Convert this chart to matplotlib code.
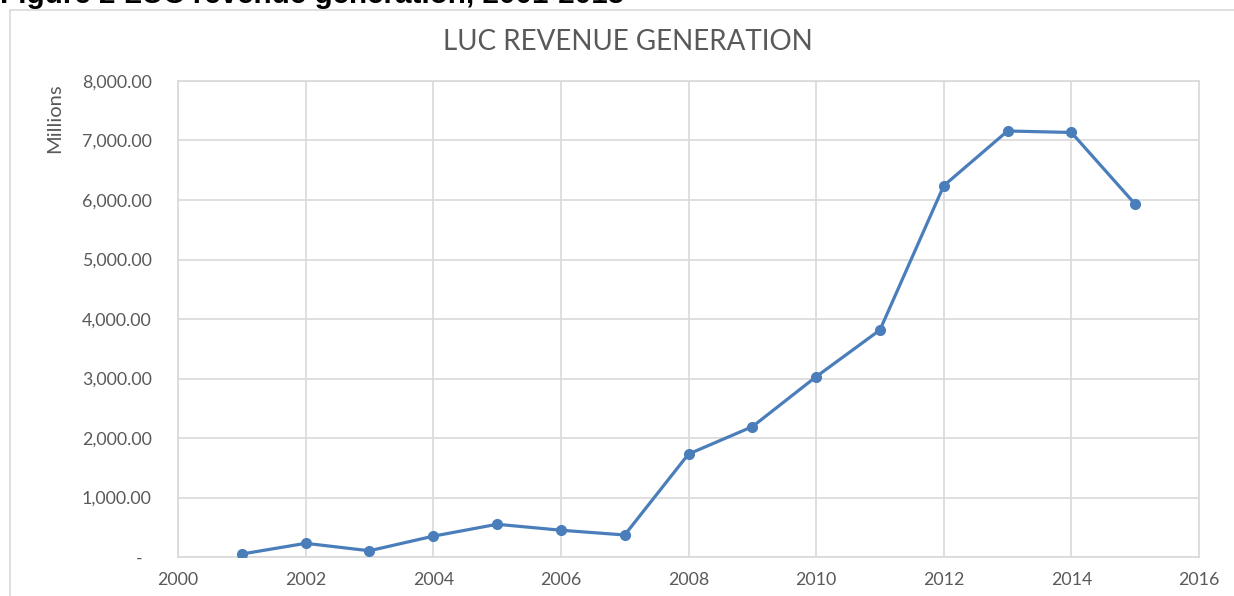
import matplotlib
matplotlib.use("Agg")
import matplotlib.pyplot as plt
from matplotlib.patches import Rectangle

years = [2001, 2002, 2003, 2004, 2005, 2006, 2007, 2008, 2009, 2010, 2011, 2012, 2013, 2014, 2015]
revenue = [50, 230, 105, 350, 550, 450, 370, 1730, 2190, 3030, 3815, 6240, 7160, 7135, 5930]
y_ticks = [0, 1000, 2000, 3000, 4000, 5000, 6000, 7000, 8000]
y_tick_labels = ["-  ", "1,000.00", "2,000.00", "3,000.00", "4,000.00", "5,000.00", "6,000.00", "7,000.00", "8,000.00"]
x_ticks = [2000, 2002, 2004, 2006, 2008, 2010, 2012, 2014, 2016]
x_tick_labels = [str(x) for x in x_ticks]

W, H = 1234, 596
fig = plt.figure(figsize=(W / 100, H / 100), dpi=100)
fig.patch.set_facecolor("white")

grid_c = "#d9d9d9"
text_c = "#595959"
line_c = "#4a7ebb"
font = "Lato"

# outer chart border
fig.patches.append(Rectangle((10 / W, -0.1), 1.2, 1 - 10 / H + 0.1, transform=fig.transFigure,
                             fill=False, edgecolor=grid_c, linewidth=1.2, clip_on=False))

# caption (clipped at top, as in the source)
fig.text(0, 1 - 3 / H, "Figure 2 LUC revenue generation, 2001-2015", ha="left", va="baseline",
         fontsize=21.3, fontweight="bold", family="Liberation Sans", color="black")

ax = fig.add_axes([178 / W, 1 - 557 / H, (1199 - 178) / W, (557 - 81) / H])
ax.plot(years, revenue, color=line_c, linewidth=2.3, marker="o", markersize=7,
        markerfacecolor=line_c, markeredgecolor=line_c, zorder=3)

ax.set_xlim(2000, 2016)
ax.set_ylim(0, 8000)
ax.set_xticks(x_ticks)
ax.set_xticklabels(x_tick_labels)
ax.set_yticks(y_ticks)
ax.set_yticklabels(y_tick_labels)
ax.grid(True, color=grid_c, linewidth=1.2)
ax.set_axisbelow(True)
for s in ax.spines.values():
    s.set_color(grid_c)
    s.set_linewidth(1.2)
ax.tick_params(axis="both", length=0, colors=text_c, labelsize=12.8)
ax.tick_params(axis="y", pad=19)
ax.tick_params(axis="x", pad=11)
for lab in ax.get_xticklabels() + ax.get_yticklabels():
    lab.set_family(font)

fig.text(55 / W, 1 - 118 / H, "Millions", rotation=90, ha="center", va="center",
         fontsize=14.5, color=text_c, family=font)
fig.text(628 / W, 1 - 42 / H, "LUC REVENUE GENERATION", ha="center", va="center",
         fontsize=20, color=text_c, family=font)

fig.savefig("out.png", dpi=100)
